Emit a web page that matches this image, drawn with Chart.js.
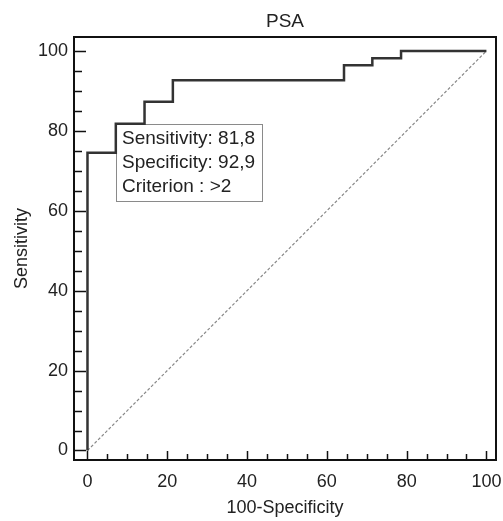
<!DOCTYPE html>
<html>
<head>
<meta charset="utf-8">
<script src="https://cdn.jsdelivr.net/npm/chart.js@4"></script>
<style>
  html, body { margin: 0; padding: 0; background: #fff; }
  #wrap { width: 503px; height: 521px; }
</style>
</head>
<body>
<div id="wrap"><canvas id="roc"></canvas></div>
<script>
'use strict';

// ROC curve points (100-Specificity, Sensitivity)
var fpr = [0, 7.1, 14.3, 21.4, 64.3, 71.4, 78.6, 100];
var tpr = [0, 74.5, 81.8, 87.3, 92.7, 96.4, 98.2, 100];
// reference (chance) line
var chanceX = [0, 100];
var chanceY = [0, 100];
// tick labels
var xTickLabels = [0, 20, 40, 60, 80, 100];
var yTickLabels = [0, 20, 40, 60, 80, 100];
// optimal criterion point and its labels
var cutX = 7.1;
var cutY = 81.8;
var cutLines = ['Sensitivity: 81,8', 'Specificity: 92,9', 'Criterion : >2'];

function toPoints(xs, ys) {
  return xs.map(function (x, i) { return { x: x, y: ys[i] }; });
}

function everyFive(scale) {
  var t = [];
  for (var v = 0; v <= 100; v += 5) t.push({ value: v });
  scale.ticks = t;
}

function labelOnly(list) {
  return function (value) {
    return list.indexOf(value) >= 0 ? String(value) : '';
  };
}

// frame, inward tick marks and criterion box
var rocDecor = {
  id: 'rocDecor',
  beforeDatasetsDraw: function (chart) {
    var ctx = chart.ctx;
    var xs = chart.scales.x;
    var ys = chart.scales.y;
    var bx = Math.round(xs.getPixelForValue(cutX));
    var by = Math.round(ys.getPixelForValue(cutY));
    ctx.save();
    ctx.font = '19px "Liberation Sans", Arial, sans-serif';
    var w = 0;
    cutLines.forEach(function (s) { w = Math.max(w, ctx.measureText(s).width); });
    w = Math.round(w + 13);
    var h = 77;
    ctx.fillStyle = '#fff';
    ctx.fillRect(bx, by, w, h);
    ctx.strokeStyle = '#8a8a8a';
    ctx.lineWidth = 1;
    ctx.strokeRect(bx + 0.5, by + 0.5, w, h);
    ctx.fillStyle = '#222';
    ctx.textBaseline = 'middle';
    cutLines.forEach(function (s, i) {
      ctx.fillText(s, bx + 6, by + 15 + i * 24);
    });
    ctx.restore();
  },
  afterDraw: function (chart) {
    var ctx = chart.ctx;
    var a = chart.chartArea;
    var xs = chart.scales.x;
    var ys = chart.scales.y;
    ctx.save();
    ctx.strokeStyle = '#111';
    ctx.lineWidth = 2;
    ctx.strokeRect(a.left, a.top, a.right - a.left, a.bottom - a.top);
    ctx.lineWidth = 1.5;
    ctx.beginPath();
    xs.ticks.forEach(function (t) {
      var px = Math.round(xs.getPixelForValue(t.value)) + 0.5;
      var len = xTickLabels.indexOf(t.value) >= 0 ? 9 : 6;
      ctx.moveTo(px, a.bottom);
      ctx.lineTo(px, a.bottom - len);
    });
    ys.ticks.forEach(function (t) {
      var py = Math.round(ys.getPixelForValue(t.value)) + 0.5;
      var len = yTickLabels.indexOf(t.value) >= 0 ? 12 : 8;
      ctx.moveTo(a.left, py);
      ctx.lineTo(a.left + len, py);
    });
    ctx.stroke();
    ctx.restore();
  }
};

Chart.defaults.font.family = '"Liberation Sans", Arial, sans-serif';
Chart.defaults.color = '#222';

new Chart(document.getElementById('roc').getContext('2d'), {
  type: 'scatter',
  data: {
    datasets: [{
      label: 'PSA',
      data: toPoints(fpr, tpr),
      showLine: true,
      stepped: 'after',
      borderColor: '#333',
      borderWidth: 2.5,
      pointRadius: 0
    }, {
      label: 'chance',
      data: toPoints(chanceX, chanceY),
      showLine: true,
      borderColor: '#888',
      borderWidth: 1.2,
      borderDash: [3, 2],
      pointRadius: 0
    }]
  },
  plugins: [rocDecor],
  options: {
    responsive: true,
    maintainAspectRatio: false,
    animation: false,
    layout: { padding: { top: 0, right: 7, bottom: 0, left: 0 } },
    plugins: {
      legend: { display: false },
      tooltip: { enabled: false }
    },
    scales: {
      // top axis only carries the chart title, centred over the plot
      top: {
        type: 'linear',
        position: 'top',
        min: -3.38,
        max: 102.4,
        afterFit: function (s) {
          s.height = 37;
          s.paddingLeft = 0;
          s.paddingRight = 0;
        },
        grid: { display: false, drawTicks: false },
        border: { display: false },
        ticks: { display: false },
        title: {
          display: true,
          text: 'PSA',
          font: { size: 19 },
          padding: { top: 10, bottom: 0 }
        }
      },
      x: {
        type: 'linear',
        min: -3.38,
        max: 102.4,
        afterBuildTicks: everyFive,
        afterFit: function (s) {
          s.height = 61;
          s.paddingLeft = 0;
          s.paddingRight = 0;
        },
        grid: { display: false, drawTicks: false },
        border: { display: true, color: '#111', width: 2 },
        ticks: {
          autoSkip: false,
          maxRotation: 0,
          padding: 11,
          font: { size: 18 },
          callback: labelOnly(xTickLabels)
        },
        title: {
          display: true,
          text: '100-Specificity',
          font: { size: 18 },
          padding: { top: 0, bottom: 2 }
        }
      },
      y: {
        type: 'linear',
        min: -2.38,
        max: 103.5,
        afterBuildTicks: everyFive,
        afterFit: function (s) {
          s.width = 74;
          s.paddingTop = 0;
          s.paddingBottom = 0;
        },
        grid: { display: false, drawTicks: false },
        border: { display: true, color: '#111', width: 2 },
        ticks: {
          autoSkip: false,
          padding: 6,
          font: { size: 18 },
          callback: labelOnly(yTickLabels)
        },
        title: {
          display: true,
          text: 'Sensitivity',
          font: { size: 18 },
          padding: { top: 11, bottom: 0 }
        }
      }
    }
  }
});
</script>
</body>
</html>
